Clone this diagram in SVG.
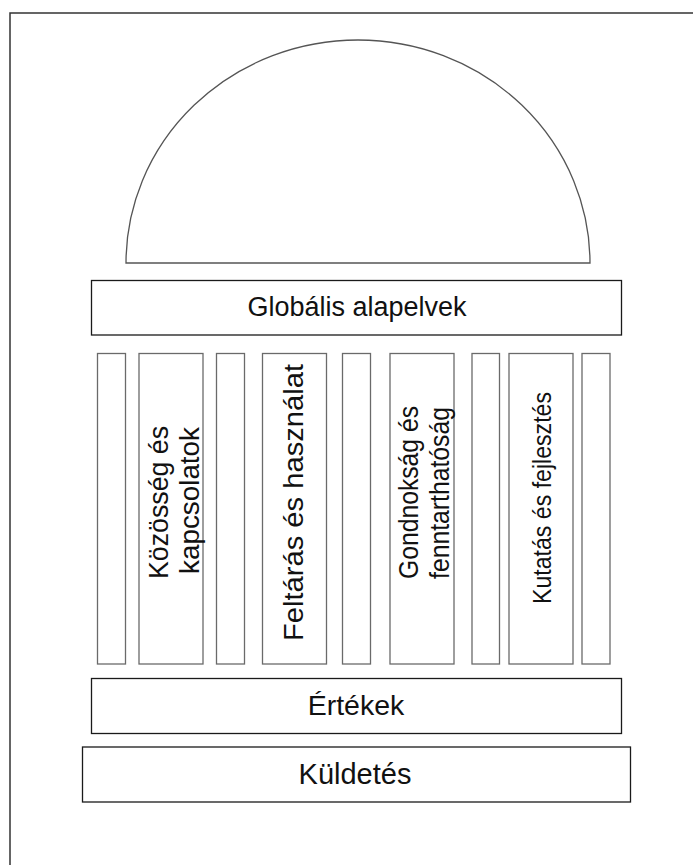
<svg xmlns="http://www.w3.org/2000/svg" width="693" height="865" viewBox="0 0 693 865">
<style>
.frame{fill:none;stroke:#333;stroke-width:1.5}
.box{fill:#fff;stroke:#1a1a1a;stroke-width:1.3}
.pillar{fill:#fff;stroke:#6a6a6a;stroke-width:1.3}
.dome{fill:#fff;stroke:#555;stroke-width:1.3}
.lbl{font-family:"Liberation Sans",Arial,sans-serif;font-size:27px;fill:#111;text-anchor:middle}
.vl{font-family:"Liberation Sans",Arial,sans-serif;font-size:27px;fill:#111}
</style>
<rect width="693" height="865" fill="#fff"/>
<path class="frame" d="M10,865 V13 H693"/>
<g id="dome"><path class="dome" d="M126,263 A232,223 0 0 1 590,263 Z"/></g>
<g id="globalis"><rect class="box" x="91.5" y="280.5" width="530" height="54.5"/><text class="lbl" x="357" y="316">Globális alapelvek</text></g>
<g id="pillar1"><rect class="pillar" x="97.5" y="353.5" width="28" height="310.5"/></g>
<g id="kozosseg"><rect class="pillar" x="139" y="353.5" width="64" height="310.5"/>
<text class="vl" x="-76.5" textLength="153" lengthAdjust="spacingAndGlyphs" transform="translate(167.5,502.5) rotate(-90)">Közösség és</text>
<text class="vl" x="-73.5" textLength="147" lengthAdjust="spacingAndGlyphs" transform="translate(199,500.5) rotate(-90)">kapcsolatok</text></g>
<g id="pillar3"><rect class="pillar" x="216.5" y="353.5" width="28" height="310.5"/></g>
<g id="feltaras"><rect class="pillar" x="262.5" y="353.5" width="64" height="310.5"/>
<text class="vl" x="-138.5" textLength="277" lengthAdjust="spacingAndGlyphs" transform="translate(303,502.5) rotate(-90)">Feltárás és használat</text></g>
<g id="pillar5"><rect class="pillar" x="342.5" y="353.5" width="28" height="310.5"/></g>
<g id="gondnoksag"><rect class="pillar" x="390" y="353.5" width="64" height="310.5"/>
<text class="vl" x="-86.5" textLength="173" lengthAdjust="spacingAndGlyphs" transform="translate(417.5,492.5) rotate(-90)">Gondnokság és</text>
<text class="vl" x="-86" textLength="172" lengthAdjust="spacingAndGlyphs" transform="translate(449,493) rotate(-90)">fenntarthatóság</text></g>
<g id="pillar7"><rect class="pillar" x="472" y="353.5" width="27.5" height="310.5"/></g>
<g id="kutatas"><rect class="pillar" x="509" y="353.5" width="64" height="310.5"/>
<text class="vl" style="font-size:26px" x="-106" textLength="212" lengthAdjust="spacingAndGlyphs" transform="translate(551,498) rotate(-90)">Kutatás és fejlesztés</text></g>
<g id="pillar9"><rect class="pillar" x="582" y="353.5" width="28" height="310.5"/></g>
<g id="ertekek"><rect class="box" x="91.5" y="678.5" width="530" height="55"/><text class="lbl" style="font-size:28.5px" x="356" y="715">Értékek</text></g>
<g id="kuldetes"><rect class="box" x="82.5" y="747" width="548" height="55"/><text class="lbl" style="font-size:29px" x="355" y="784">Küldetés</text></g>
<g id="connectors"></g>
</svg>
